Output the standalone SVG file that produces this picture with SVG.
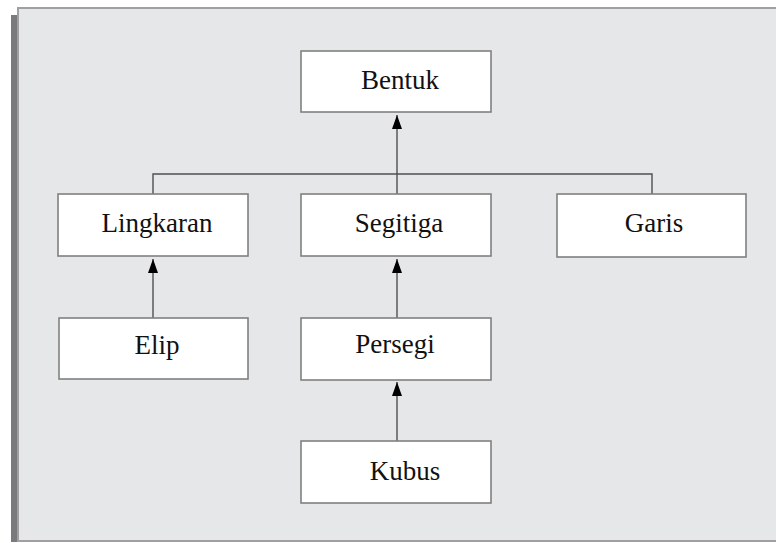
<svg xmlns="http://www.w3.org/2000/svg" width="776" height="543" viewBox="0 0 776 543">
<style>
.box{fill:#ffffff;stroke:#808080;stroke-width:1.6}
.lbl{font-family:"Liberation Serif","Times New Roman",serif;font-size:27px;fill:#111;text-anchor:middle}
.ln{stroke:#505050;stroke-width:1.4;fill:none}
</style>
<defs>
<marker id="ah" markerWidth="14" markerHeight="10" refX="14" refY="5" orient="auto" markerUnits="userSpaceOnUse" viewBox="0 0 14 10">
<path d="M0,0 L14,5 L0,10 Z" fill="#000"/>
</marker>
</defs>
<rect x="0" y="0" width="776" height="543" fill="#ffffff"/>
<rect x="11" y="15" width="8" height="527" fill="#7a7a7c"/>
<rect x="18" y="8" width="760" height="533" fill="#e6e7e9" stroke="#a0a0a2" stroke-width="2"/>
<g id="connectors">
<polyline class="ln" points="153,194 153,174 652,174 652,194"/>
<line class="ln" x1="397" y1="194" x2="397" y2="115" marker-end="url(#ah)"/>
<line class="ln" x1="153" y1="318" x2="153" y2="259" marker-end="url(#ah)"/>
<line class="ln" x1="397" y1="318" x2="397" y2="259" marker-end="url(#ah)"/>
<line class="ln" x1="397" y1="441" x2="397" y2="382" marker-end="url(#ah)"/>
</g>
<g id="bentuk"><rect class="box" x="301" y="51" width="190" height="61"/><text class="lbl" x="400" y="89">Bentuk</text></g>
<g id="lingkaran"><rect class="box" x="58" y="194" width="190" height="62"/><text class="lbl" x="157" y="232">Lingkaran</text></g>
<g id="segitiga"><rect class="box" x="301" y="194" width="190" height="62"/><text class="lbl" x="399" y="232">Segitiga</text></g>
<g id="garis"><rect class="box" x="557" y="194" width="189" height="63"/><text class="lbl" x="654" y="232">Garis</text></g>
<g id="elip"><rect class="box" x="59" y="318" width="189" height="61"/><text class="lbl" x="157" y="354">Elip</text></g>
<g id="persegi"><rect class="box" x="301" y="318" width="190" height="62"/><text class="lbl" x="395" y="353">Persegi</text></g>
<g id="kubus"><rect class="box" x="301" y="441" width="190" height="62"/><text class="lbl" x="405" y="480">Kubus</text></g>
</svg>
